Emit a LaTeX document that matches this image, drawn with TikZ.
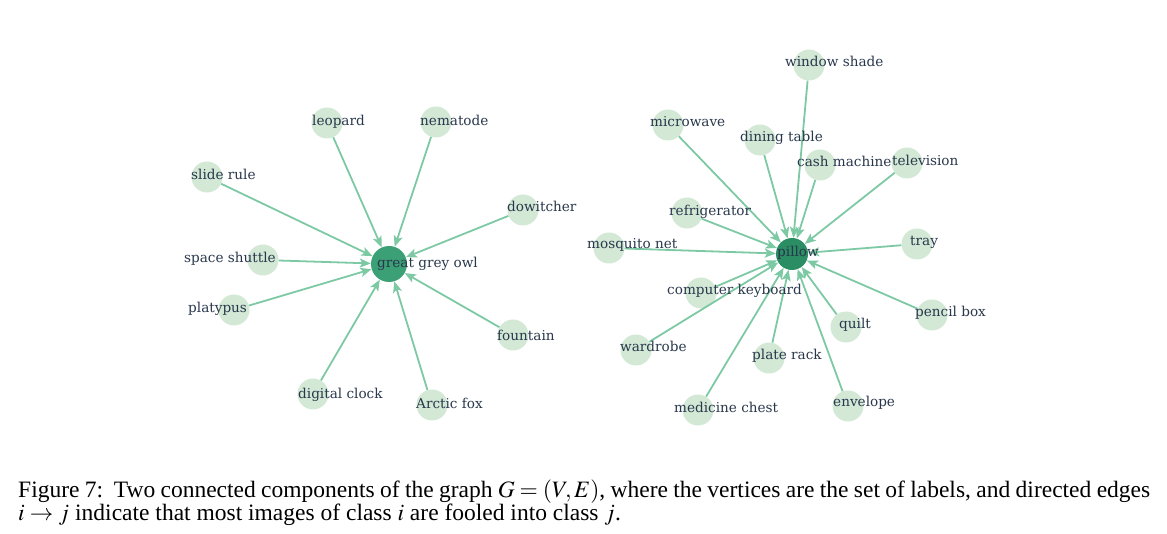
\documentclass[tikz,border=0pt]{standalone}
\usepackage{mathptmx}
\usepackage{fontspec}
\setmainfont{Liberation Serif}
\newfontfamily\lblfont{DejaVu Serif}
\newfontfamily\capfont{Liberation Serif}
\usetikzlibrary{arrows.meta}

\definecolor{leaffill}{RGB}{211,233,214}
\definecolor{owlfill}{RGB}{60,160,118}
\definecolor{pillowfill}{RGB}{42,141,99}
\definecolor{linkcol}{RGB}{125,201,164}
\definecolor{lblcol}{RGB}{40,55,75}

\tikzset{
  vtx/.style={circle, fill=leaffill, minimum size=31pt, inner sep=0pt},
  hubvtx/.style={circle, minimum size=34pt, inner sep=0pt},
  vlabel/.style={anchor=mid west, inner sep=0pt, yshift=-1.5pt, text=lblcol, font=\lblfont\fontsize{13.6}{15}\selectfont},
  link/.style={draw=linkcol, line width=1.8pt, -{Stealth[length=11pt, width=9pt, inset=2.5pt]}}
}

\begin{document}
\begin{tikzpicture}[x=1pt, y=-1pt]
            \useasboundingbox (0,0) rectangle (1167,534);

            % left component
            \node[hubvtx, fill=owlfill, minimum size=36pt] (owl) at (389,264) {};
            \node[vtx] (leopard) at (327,123) {};
            \node[vtx] (nematode) at (436,122) {};
            \node[vtx] (sliderule) at (207,177) {};
            \node[vtx] (dowitcher) at (523,210) {};
            \node[vtx] (shuttle) at (263,260) {};
            \node[vtx] (platypus) at (234,310) {};
            \node[vtx] (fountain) at (513,335) {};
            \node[vtx] (clock) at (313,394) {};
            \node[vtx] (fox) at (432,405) {};

            \draw[link] (leopard) -- (owl);
            \draw[link] (nematode) -- (owl);
            \draw[link] (sliderule) -- (owl);
            \draw[link] (dowitcher) -- (owl);
            \draw[link] (shuttle) -- (owl);
            \draw[link] (platypus) -- (owl);
            \draw[link] (fountain) -- (owl);
            \draw[link] (clock) -- (owl);
            \draw[link] (fox) -- (owl);

            \node[vlabel] (owl-l) at (377,264) {great grey owl};
            \node[vlabel] (leopard-l) at (312,122) {leopard};
            \node[vlabel] (nematode-l) at (420,122) {nematode};
            \node[vlabel] (sliderule-l) at (191,176) {slide rule};
            \node[vlabel] (dowitcher-l) at (507,208) {dowitcher};
            \node[vlabel] (shuttle-l) at (184,259) {space shuttle};
            \node[vlabel] (platypus-l) at (188,309) {platypus};
            \node[vlabel] (fountain-l) at (497,337) {fountain};
            \node[vlabel] (clock-l) at (298,395) {digital clock};
            \node[vlabel] (fox-l) at (416,405) {Arctic fox};

            % right component
            \node[hubvtx, fill=pillowfill, minimum size=32pt] (pillow) at (792,254) {};
            \node[vtx] (shade) at (809,65) {};
            \node[vtx] (microwave) at (668,125) {};
            \node[vtx] (dining) at (760,140) {};
            \node[vtx] (cash) at (820,165) {};
            \node[vtx] (tv) at (907,163) {};
            \node[vtx] (fridge) at (687,213) {};
            \node[vtx] (mosquito) at (609,248) {};
            \node[vtx] (tray) at (917,244) {};
            \node[vtx] (keyboard) at (701,293) {};
            \node[vtx] (pencil) at (932,315) {};
            \node[vtx] (quilt) at (846,327) {};
            \node[vtx] (wardrobe) at (636,350) {};
            \node[vtx] (plate) at (769,358) {};
            \node[vtx] (medicine) at (698,410) {};
            \node[vtx] (envelope) at (848,406) {};

            \draw[link] (shade) -- (pillow);
            \draw[link] (microwave) -- (pillow);
            \draw[link] (dining) -- (pillow);
            \draw[link] (cash) -- (pillow);
            \draw[link] (tv) -- (pillow);
            \draw[link] (fridge) -- (pillow);
            \draw[link] (mosquito) -- (pillow);
            \draw[link] (tray) -- (pillow);
            \draw[link] (keyboard) -- (pillow);
            \draw[link] (pencil) -- (pillow);
            \draw[link] (quilt) -- (pillow);
            \draw[link] (wardrobe) -- (pillow);
            \draw[link] (plate) -- (pillow);
            \draw[link] (medicine) -- (pillow);
            \draw[link] (envelope) -- (pillow);

            \node[vlabel] (pillow-l) at (777,253) {pillow};
            \node[vlabel] (shade-l) at (785,63) {window shade};
            \node[vlabel] (microwave-l) at (650,123) {microwave};
            \node[vlabel] (dining-l) at (740,138) {dining table};
            \node[vlabel] (cash-l) at (797,163) {cash machine};
            \node[vlabel] (tv-l) at (892,162) {television};
            \node[vlabel] (fridge-l) at (669,212) {refrigerator};
            \node[vlabel] (mosquito-l) at (587,245) {mosquito net};
            \node[vlabel] (tray-l) at (910,242) {tray};
            \node[vlabel] (keyboard-l) at (667,291) {computer keyboard};
            \node[vlabel] (pencil-l) at (915,313) {pencil box};
            \node[vlabel] (quilt-l) at (839,325) {quilt};
            \node[vlabel] (wardrobe-l) at (620,348) {wardrobe};
            \node[vlabel] (plate-l) at (752,356) {plate rack};
            \node[vlabel] (medicine-l) at (674,409) {medicine chest};
            \node[vlabel] (envelope-l) at (833,403) {envelope};

            % caption
            \node[anchor=north west, inner sep=0pt, text width=1132pt, align=justify,
                  font=\capfont\fontsize{23.5}{23}\selectfont] (caption) at (18,480)
                  {Figure 7:\ \ Two connected components of the graph $G=(V,E)$, where the vertices are the set of labels, and directed edges\linebreak
                   $i\rightarrow j$ indicate that most images of class $i$ are fooled into class $j$.};
        \end{tikzpicture}
\end{document}
